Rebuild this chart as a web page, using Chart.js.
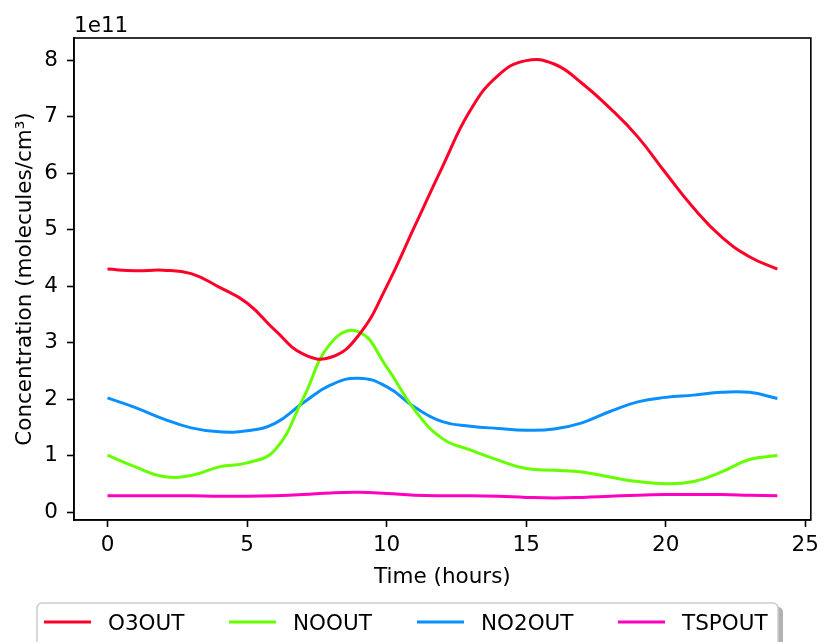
<!DOCTYPE html>
<html>
<head>
<meta charset="utf-8">
<script src="https://cdn.jsdelivr.net/npm/chart.js@4.4.1/dist/chart.umd.min.js"></script>
<style>
  html, body { margin: 0; padding: 0; background: #fff; }
  #wrap { width: 825px; height: 642px; position: relative; }
</style>
</head>
<body>
<div id="wrap"><canvas id="concChart" width="825" height="642"></canvas></div>
<script>
// hours of the day
const hours = [0,1,2,3,4,5,6,7,8,9,10,11,12,13,14,15,16,17,18,19,20,21,22,23,24];
// concentrations, in units of 1e11 molecules/cm3
const o3Out = [4.30,4.27,4.28,4.22,3.98,3.70,3.22,2.80,2.74,3.13,3.99,5.05,6.11,7.11,7.73,7.99,7.93,7.59,7.15,6.64,6.00,5.38,4.87,4.52,4.30];
const noOut = [1.01,0.80,0.63,0.65,0.80,0.87,1.10,2.00,2.99,3.19,2.57,1.81,1.30,1.10,0.92,0.77,0.74,0.71,0.62,0.54,0.50,0.54,0.71,0.93,1.00];
const no2Out = [2.02,1.85,1.65,1.49,1.42,1.44,1.57,1.93,2.25,2.37,2.22,1.86,1.60,1.52,1.48,1.45,1.47,1.58,1.78,1.95,2.03,2.07,2.12,2.12,2.01];
const tspOut = [0.29,0.29,0.29,0.29,0.28,0.28,0.29,0.31,0.34,0.35,0.33,0.30,0.29,0.29,0.28,0.26,0.25,0.26,0.28,0.30,0.31,0.31,0.31,0.30,0.29];
const seriesNames = ["O3OUT", "NOOUT", "NO2OUT", "TSPOUT"];
const seriesColors = ["#ff0029", "#66ff00", "#0a8fff", "#ff00c0"];
const xTicks = [0, 5, 10, 15, 20, 25];
const yTicks = [0, 1, 2, 3, 4, 5, 6, 7, 8];

const FONT = '21.5px "DejaVu Sans"';

function toPoints(vals) {
  return vals.map((v, i) => ({ x: hours[i], y: v }));
}

// frame, titles, offset label and legend drawn like matplotlib
const extras = {
  id: "extras",
  afterDraw(chart) {
    const ctx = chart.ctx;
    const a = chart.chartArea;
    ctx.save();
    ctx.strokeStyle = "#000";
    ctx.lineWidth = 1.6;
    ctx.strokeRect(a.left, a.top, a.right - a.left, a.bottom - a.top);

    ctx.fillStyle = "#000";
    ctx.font = FONT;
    ctx.textAlign = "left";
    ctx.textBaseline = "alphabetic";
    ctx.fillText("1e11", a.left, 32);

    ctx.textAlign = "center";
    ctx.fillText("Time (hours)", (a.left + a.right) / 2, 583);

    ctx.save();
    ctx.translate(25, (a.top + a.bottom) / 2);
    ctx.rotate(-Math.PI / 2);
    ctx.textBaseline = "middle";
    ctx.fillText("Concentration (molecules/cm³)", 0, 0);
    ctx.restore();

    // legend box with shadow
    const bx = 37, by = 603, bw = 741, bh = 60, r = 5;
    function rrect(x, y) {
      ctx.beginPath();
      ctx.roundRect(x, y, bw, bh, r);
    }
    ctx.fillStyle = "rgba(0,0,0,0.3)";
    rrect(bx + 5, by + 4);
    ctx.fill();
    ctx.fillStyle = "#fff";
    rrect(bx, by);
    ctx.fill();
    ctx.strokeStyle = "#cccccc";
    ctx.lineWidth = 1.5;
    rrect(bx, by);
    ctx.stroke();

    const lineStarts = [44, 229, 417, 618];
    ctx.textAlign = "left";
    ctx.textBaseline = "alphabetic";
    ctx.font = FONT;
    seriesNames.forEach((name, i) => {
      const x0 = lineStarts[i];
      ctx.strokeStyle = seriesColors[i];
      ctx.lineWidth = 3;
      ctx.beginPath();
      ctx.moveTo(x0, 622);
      ctx.lineTo(x0 + 47, 622);
      ctx.stroke();
      ctx.fillStyle = "#000";
      ctx.fillText(name, x0 + 64, 630);
    });
    ctx.restore();
  }
};

const ctx = document.getElementById("concChart").getContext("2d");
const concChart = new Chart(ctx, {
  type: "line",
  data: {
    datasets: [o3Out, noOut, no2Out, tspOut].map((vals, i) => ({
      label: seriesNames[i],
      data: toPoints(vals),
      borderColor: seriesColors[i],
      backgroundColor: seriesColors[i],
      borderWidth: 3,
      pointRadius: 0,
      tension: 0.45,
      fill: false,
    })),
  },
  options: {
    responsive: false,
    animation: false,
    layout: { padding: { left: 0, top: 38, right: 10, bottom: 0 } },
    plugins: {
      legend: { display: false },
      tooltip: { enabled: false },
    },
    scales: {
      x: {
        type: "linear",
        min: -1.2,
        max: 25.2,
        afterBuildTicks: (s) => { s.ticks = xTicks.map((v) => ({ value: v })); },
        afterFit: (s) => { s.height = 122; },
        grid: { display: true, drawOnChartArea: false, drawTicks: true, tickLength: 7, tickColor: "#000", tickWidth: 1.6 },
        border: { display: true, color: "#000", width: 1.6 },
        ticks: { color: "#000", font: { family: "DejaVu Sans", size: 21.5 }, padding: 6, maxRotation: 0 },
      },
      y: {
        min: -0.14,
        max: 8.39,
        afterBuildTicks: (s) => { s.ticks = yTicks.map((v) => ({ value: v })); },
        afterFit: (s) => { s.width = 74; },
        grid: { display: true, drawOnChartArea: false, drawTicks: true, tickLength: 7, tickColor: "#000", tickWidth: 1.6 },
        border: { display: true, color: "#000", width: 1.6 },
        ticks: { color: "#000", font: { family: "DejaVu Sans", size: 21.5 }, padding: 9 },
      },
    },
  },
  plugins: [extras],
});
</script>
</body>
</html>
